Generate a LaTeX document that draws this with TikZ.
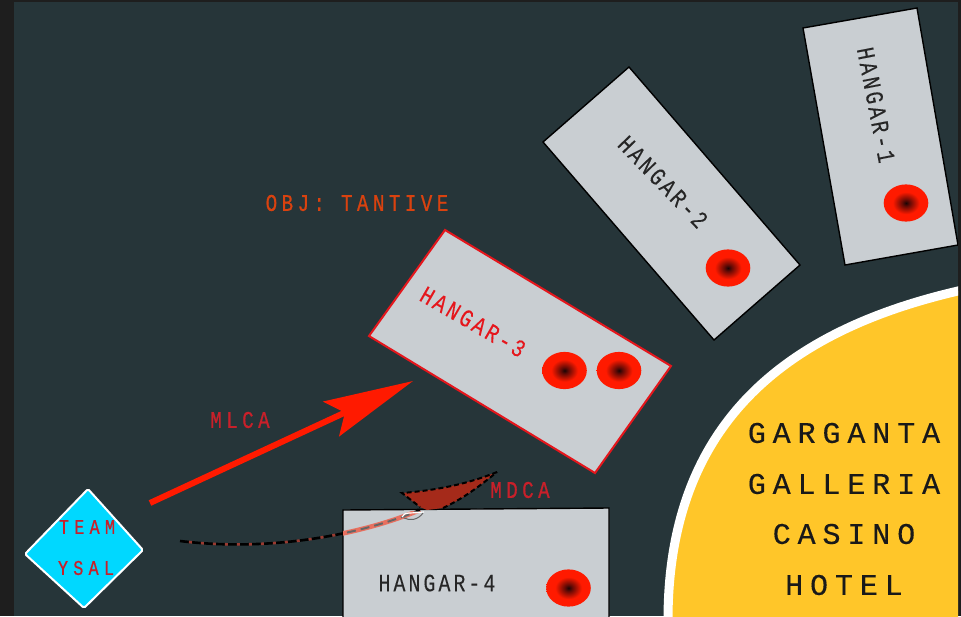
\documentclass[tikz,border=0pt]{standalone}
\usepackage{fontspec}
\usetikzlibrary{arrows.meta,calc}
\setmainfont{Liberation Mono}
\definecolor{bgc}{HTML}{263539}
\definecolor{framec}{HTML}{1E1E1E}
\definecolor{hangarc}{HTML}{C9CED2}
\definecolor{yellowc}{HTML}{FFC629}
\definecolor{spotred}{HTML}{FF1A00}
\definecolor{labred}{HTML}{C8202A}
\definecolor{objc}{HTML}{D9420F}
\definecolor{hred}{HTML}{E5161C}
\definecolor{cyanc}{HTML}{00D8FF}
\definecolor{headc}{HTML}{A52A1A}
\definecolor{salmonc}{HTML}{E8705F}
\definecolor{dashred}{HTML}{9A3A30}
\definecolor{spotdark}{HTML}{1A0505}
\definecolor{spotmid}{HTML}{600A05}
\pgfdeclareradialshading{spotshade}{\pgfpointorigin}{color(0bp)=(spotdark); color(4bp)=(spotmid); color(15bp)=(spotred); color(50bp)=(spotred)}
\newfontfamily\bigf[LetterSpace=23,FakeBold=0.3]{Liberation Mono}
\newfontfamily\hf[FakeStretch=0.8,LetterSpace=12,FakeBold=0.1]{Liberation Mono}
\newfontfamily\mf[FakeStretch=0.8,LetterSpace=18.5,FakeBold=0.6]{Liberation Mono}
\newfontfamily\tf[FakeStretch=0.8,LetterSpace=25,FakeBold=0.6]{Liberation Mono}
\tikzset{x=1pt,y=-1pt,
 hangar/.style={draw=black,line width=1.4pt,fill=hangarc,line join=miter},
 hangarlab/.style={font=\hf\fontsize{25}{25}\selectfont,text=black!85,inner sep=0pt,anchor=center},
 biglab/.style={font=\bigf\fontsize{30}{30}\selectfont,text=black!90,inner sep=0pt,anchor=center},
 lab/.style={font=\mf\fontsize{24}{24}\selectfont,text=labred,inner sep=0pt,anchor=center},
 teamlab/.style={font=\tf\fontsize{21}{21}\selectfont,text=labred,inner sep=0pt,anchor=center},
 spot/.style={shading=spotshade}
}
\newcommand{\spotat}[2]{\shade[spot] (#1,#2) ellipse [x radius=22.3pt,y radius=18.6pt];}
\newcommand{\casinopath}{(990,281) -- (958,291) .. controls (790,330) and (668,420) .. (668,620) -- (668,640)}
\newcommand{\mdcapath}{(da) .. controls (270,552) and (360,535) .. (db)}
\begin{document}
\begin{tikzpicture}
\useasboundingbox (0,0) rectangle (961,616);
\fill[framec] (0,0) rectangle (961,616);
\fill[bgc] (14,2) rectangle (958,616);
\begin{scope}
\clip (14,2) rectangle (958,616);
% casino
\fill[yellowc] \casinopath -- (990,640) -- cycle;
\draw[white,line width=9pt] \casinopath;
% hangars
\draw[hangar] (803,28) -- (917,8) -- (958,245) -- (845,265) -- cycle;
\draw[hangar] (543,142) -- (629,67) -- (800,265) -- (714,340) -- cycle;
\draw[hangar,draw=hred,line width=2pt] (445,230) -- (671,366) -- (595,473) -- (369,336) -- cycle;
\draw[hangar] (343,640) -- (343,510) -- (609,508) -- (609,640);
\end{scope}
\spotat{906}{203}\spotat{728}{268}\spotat{564.5}{370.5}\spotat{619}{370.5}\spotat{568.5}{588}
\node[hangarlab,rotate=-79] (h1) at (876,105) {HANGAR-1};
\node[hangarlab,rotate=-46] (h2) at (663,182) {HANGAR-2};
\node[hangarlab,rotate=-30,text=hred] (h3) at (473,322) {HANGAR-3};
\node[hangarlab] (h4) at (437,583) {HANGAR-4};
\node[biglab] (g1) at (844,433) {GARGANTA};
\node[biglab] (g2) at (844,484) {GALLERIA};
\node[biglab] (g3) at (844,534) {CASINO};
\node[biglab] (g4) at (844,585) {HOTEL};
\node[lab,text=objc] (obj) at (357,203) {OBJ: TANTIVE};
\node[lab] (mlca) at (240,420) {MLCA};
\node[lab] (mdca) at (520,490) {MDCA};
% team diamond
\draw[white,line width=2pt,fill=cyanc,line join=round,rounded corners=1.5pt] (88,489) -- (143,550) -- (84,608) -- (25,554) -- cycle;
\node[teamlab] (t1) at (87,527) {TEAM};
\node[teamlab] (t2) at (86,568) {YSAL};
% MLCA arrow
\coordinate (ma) at (150,503);
\coordinate (mb) at (413,381);
\draw[spotred,line width=6pt,-{Stealth[length=90pt,width=38pt,inset=15pt]}] (ma) -- (mb);
% MDCA
\coordinate (da) at (180,541);
\coordinate (db) at (420,510);
\coordinate (dt) at (497,472);
\coordinate (dl) at (402,493);
\coordinate (dn) at (443,508);
\draw[black,line width=2.6pt,dash pattern=on 9pt off 3pt] \mdcapath;
\draw[dashred,line width=2.6pt,dash pattern=on 3pt off 9pt,dash phase=-9pt] \mdcapath;
\begin{scope}
\clip (343,511) rectangle (609,616);
\draw[salmonc,line width=4.6pt] \mdcapath;
\draw[black!60,line width=2pt,dash pattern=on 9pt off 5pt] \mdcapath;
\draw[white,line width=1.2pt] (402,517) .. controls (405,511) and (410,514) .. (424,512);
\draw[black!60,line width=1pt] (404,518) .. controls (410,521) and (418,520) .. (423,513);
\end{scope}
\fill[headc] (dt) .. controls (470,483) and (440,490) .. (dl) -- (420,507) -- (427,510) -- (dn) .. controls (460,500) and (475,490) .. cycle;
\draw[black,line width=2pt,dash pattern=on 5pt off 3pt] (dt) .. controls (470,483) and (440,490) .. (dl) -- (420,507);
\draw[black,line width=2pt,dash pattern=on 5pt off 3pt] (dn) .. controls (460,500) and (475,490) .. (dt);
\end{tikzpicture}
\end{document}
